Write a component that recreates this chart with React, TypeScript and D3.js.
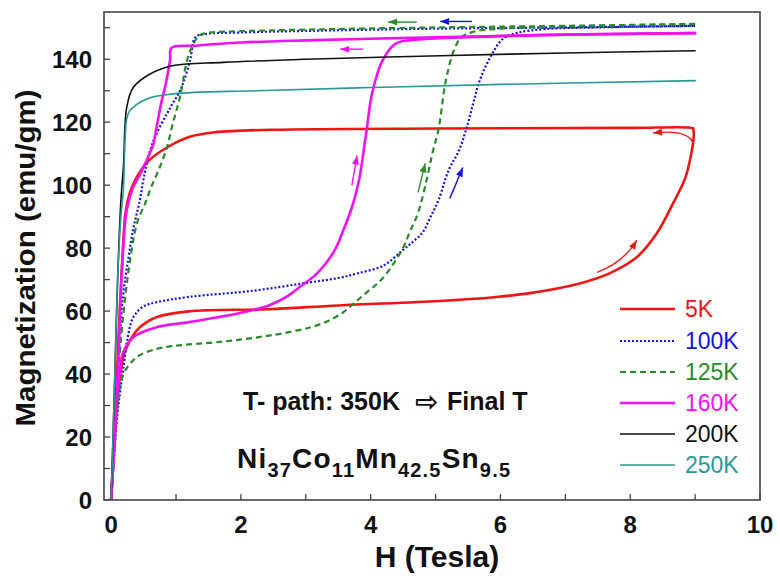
import React from "react";
import * as d3 from "d3";

type Pt = [number, number];

// ---- data (H in Tesla, M in emu/gm) ----
const xMajor = [0, 2, 4, 6, 8, 10];
const xMinor = [0, 1, 2, 3, 4, 5, 6, 7, 8, 9, 10];
const yMajor = [0, 20, 40, 60, 80, 100, 120, 140];
const yMinor = [0, 10, 20, 30, 40, 50, 60, 70, 80, 90, 100, 110, 120, 130, 140, 150];

const m5kUp: Pt[] = [[0,0],[0.03,12],[0.06,22],[0.1,32],[0.14,40],[0.21,47],[0.32,51.7],[0.45,55],[0.69,58],[1.2,59.9],[2.43,60.6],[3.5,61.8],[5.06,63.2],[5.9,64.4],[6.45,65.7],[7.22,68.8],[7.68,72],[8.1,77.1],[8.41,84.7],[8.66,94.2],[8.85,102.4],[8.95,111],[8.98,116],[8.97,118]];
const m5kDown: Pt[] = [[8.97,118],[8.9,118.3],[8,118.2],[5,118],[2.5,117.6],[1.6,116.8],[1.2,115.3],[0.88,112.2],[0.58,107.8],[0.38,102],[0.28,97],[0.22,91],[0.17,75],[0.12,55],[0.09,40],[0.05,22],[0,0]];

const m100kUp: Pt[] = [[0,0],[0.05,15],[0.1,28],[0.15,36],[0.19,42],[0.25,51],[0.34,58],[0.5,61.5],[0.7,62.8],[1.2,64.5],[2.2,66.5],[2.95,68.8],[3.5,70.5],[3.8,72],[4.2,74.5],[4.49,79.3],[4.65,82],[4.8,85],[4.92,89.8],[5.05,95.5],[5.2,104.7],[5.36,111],[5.48,118.3],[5.58,126],[5.68,133.2],[5.84,140.5],[6.04,146.5],[6.26,148.4],[6.7,149.6],[7.5,150.1],[9,150.6]];
const m100kDown: Pt[] = [[9,150.6],[7,150.1],[5,149.7],[3,149],[2,148.5],[1.45,148],[1.3,147],[1.22,140],[1.12,133],[1.05,129.5],[0.95,126],[0.86,122.7],[0.7,116.4],[0.6,111],[0.5,102],[0.44,95],[0.34,86],[0.26,76],[0.18,64.4],[0.13,50],[0.1,40],[0.06,25],[0,0]];

const m125kUp: Pt[] = [[0,0],[0.05,15],[0.1,30],[0.18,39.5],[0.3,43.5],[0.44,46],[0.7,48],[0.95,48.9],[1.72,50.3],[2.3,51.8],[2.74,53.3],[3.1,55],[3.4,57.4],[3.6,60],[3.77,63],[3.97,66.5],[4.17,70.1],[4.48,79.3],[4.6,85],[4.73,91.2],[4.86,101.5],[4.95,110],[5.05,118.3],[5.15,132.3],[5.28,142.7],[5.4,147],[5.6,148.8],[6,149.7],[7,150.4],[9,151.2]];
const m125kDown: Pt[] = [[9,151.2],[7,150.6],[5,150.1],[3,149.4],[2,148.9],[1.5,148.4],[1.36,147.5],[1.2,141.7],[1.06,127.9],[0.95,119.5],[0.86,112],[0.75,105.7],[0.62,99.5],[0.52,94],[0.4,88],[0.25,70],[0.14,48.5],[0.1,38],[0.05,20],[0,0]];

const m160kUp: Pt[] = [[0,0],[0.05,18],[0.1,35],[0.14,42],[0.18,46.6],[0.34,51.7],[0.7,54.9],[1.2,56.5],[1.97,59.3],[2.43,61.8],[2.7,64.5],[2.94,68.2],[3.15,71.5],[3.31,75.2],[3.45,79.5],[3.56,84.7],[3.71,92.9],[3.82,101.5],[3.93,116.4],[4.02,129],[4.18,139.5],[4.39,145],[4.7,146.2],[5.5,147],[7,147.8],[9,148.3]];
const m160kDown: Pt[] = [[9,148.3],[7,147.8],[5,147],[3,146],[2,145.3],[1.3,144.3],[0.93,143.6],[0.91,140],[0.89,137.4],[0.83,131],[0.78,126.9],[0.7,118.4],[0.65,113],[0.57,108.9],[0.45,103.6],[0.34,99.4],[0.24,92],[0.17,75],[0.12,50],[0.06,22],[0,0]];

const m200k: Pt[] = [[0,0],[0.05,35],[0.1,70],[0.15,95],[0.19,106],[0.24,124.7],[0.34,131],[0.6,135.3],[0.96,138],[1.73,139],[3,140],[5.07,141.1],[7,142],[9,142.7]];
const m250k: Pt[] = [[0,0],[0.05,35],[0.1,70],[0.15,90],[0.19,99],[0.21,112],[0.24,121],[0.29,123.7],[0.55,127.4],[0.96,129],[2.24,130],[4,131],[6,132],[9,133.2]];

const seriesNames = ["5K", "100K", "125K", "160K", "200K", "250K"];
const seriesColors = ["#f01515", "#1212e6", "#2a8a2a", "#f012f0", "#111111", "#2a9696"];
const seriesWidths = [2.6, 2.2, 2.2, 2.6, 1.6, 1.6];
const seriesDash = ["", "2,2", "6,4", "", "", ""];
const seriesBranches: Pt[][][] = [
  [m5kUp, m5kDown],
  [m100kUp, m100kDown],
  [m125kUp, m125kDown],
  [m160kUp, m160kDown],
  [m200k],
  [m250k],
];

// direction arrows: [series index, from, control (optional), to]
const arrowSeries = [0, 0, 1, 1, 2, 2, 3, 3];
const arrowFrom: Pt[] = [[7.49,72.3],[8.97,113],[5.22,95.8],[5.56,152],[4.71,151.8],[4.73,97.7],[3.88,143.2],[3.71,99.9]];
const arrowCtrl: (Pt | null)[] = [[7.9,75.5],[8.92,117.8],null,null,null,null,null,null];
const arrowTo: Pt[] = [[8.1,82.5],[8.35,116.6],[5.42,105.6],[5.07,152],[4.27,151.8],[4.84,106.9],[3.53,143.2],[3.79,109.4]];

const W = 780, H = 576;
const L = 104, R = 760, T = 12, B = 500;

export default function App() {
  const x = d3.scaleLinear().domain([-0.11, 10]).range([L, R]);
  const y = d3.scaleLinear().domain([0, 155]).range([B, T]);
  const line = d3.line<Pt>().x(d => x(d[0])).y(d => y(d[1])).curve(d3.curveCatmullRom.alpha(0.5));
  const font = "'Liberation Sans', Arial, Helvetica, sans-serif";

  const arrows = arrowSeries.map((s, i) => {
    const f = arrowFrom[i], t = arrowTo[i], c = arrowCtrl[i];
    const fx = x(f[0]), fy = y(f[1]), tx = x(t[0]), ty = y(t[1]);
    let d: string;
    let ax: number, ay: number;
    if (c) {
      const cx = x(c[0]), cy = y(c[1]);
      d = `M${fx},${fy}Q${cx},${cy} ${tx},${ty}`;
      ax = tx - cx; ay = ty - cy;
    } else {
      d = `M${fx},${fy}L${tx},${ty}`;
      ax = tx - fx; ay = ty - fy;
    }
    const len = Math.hypot(ax, ay);
    const ux = ax / len, uy = ay / len;
    const hl = 9, hw = 3.5;
    const bx = tx - ux * hl, by = ty - uy * hl;
    const head = `${tx},${ty} ${bx - uy * hw},${by + ux * hw} ${bx + uy * hw},${by - ux * hw}`;
    return (
      <g key={"a" + i}>
        <path d={d} fill="none" stroke={seriesColors[s]} strokeWidth={1.4} />
        <polygon points={head} fill={seriesColors[s]} />
      </g>
    );
  });

  const legendY = [309, 341, 372, 403, 434, 465];

  return (
    <svg width={W} height={H} style={{ position: "absolute", left: 0, top: 0, background: "#fff" }} fontFamily={font}>
      <rect x={0} y={0} width={W} height={H} fill="#fff" />
      <defs>
        <clipPath id="plot">
          <rect x={L} y={T} width={R - L} height={B - T} />
        </clipPath>
      </defs>

      {/* ticks */}
      {xMinor.map(v => (
        <line key={"xt" + v} x1={x(v)} x2={x(v)} y1={B} y2={B - 6} stroke="#444" strokeWidth={1.3} />
      ))}
      {yMinor.map(v => (
        <line key={"yt" + v} x1={L} x2={L + 6} y1={y(v)} y2={y(v)} stroke="#444" strokeWidth={1.3} />
      ))}

      {/* curves */}
      <g clipPath="url(#plot)">
        {seriesBranches.map((branches, si) =>
          branches.map((b, bi) => (
            <path key={si + "-" + bi} d={line(b) || ""} fill="none" stroke={seriesColors[si]}
              strokeWidth={seriesWidths[si]} strokeDasharray={seriesDash[si] || undefined}
              strokeLinejoin="round" strokeLinecap={seriesDash[si] ? "butt" : "round"} />
          ))
        )}
        {arrows}
      </g>

      {/* frame */}
      <rect x={L} y={T} width={R - L} height={B - T} fill="none" stroke="#444" strokeWidth={1.6} />

      {/* tick labels */}
      {xMajor.map(v => (
        <text key={"xl" + v} x={x(v)} y={533} textAnchor="middle" fontSize={24} fontWeight="bold" fill="#111">{v}</text>
      ))}
      {yMajor.map(v => (
        <text key={"yl" + v} x={92} y={y(v) + 8.5} textAnchor="end" fontSize={24} fontWeight="bold" fill="#111">{v}</text>
      ))}

      {/* axis titles */}
      <text x={437} y={567} textAnchor="middle" fontSize={30} fontWeight="bold" fill="#111">H (Tesla)</text>
      <text transform={`translate(35,258) rotate(-90)`} textAnchor="middle" fontSize={28} fontWeight="bold" fill="#111"
        textLength={337} lengthAdjust="spacingAndGlyphs">Magnetization (emu/gm)</text>

      {/* legend */}
      {seriesNames.map((n, i) => (
        <g key={"lg" + i}>
          <line x1={620} x2={675} y1={legendY[i]} y2={legendY[i]} stroke={seriesColors[i]}
            strokeWidth={seriesWidths[i]} strokeDasharray={seriesDash[i] || undefined} />
          <text x={685} y={legendY[i] + 8} fontSize={23} fill={seriesColors[i]}>{n}</text>
        </g>
      ))}

      {/* annotations */}
      <text x={243} y={410} fontSize={25} fontWeight="bold" fill="#111">T- path: 350K</text>
      <text x={415} y={411} fontSize={28} fontWeight="bold" fill="#111" fontFamily="'DejaVu Sans', sans-serif">⇨</text>
      <text x={447} y={410} fontSize={25} fontWeight="bold" fill="#111">Final T</text>

      <text x={237} y={468} fontSize={28} fontWeight="bold" fill="#111" textLength={273} lengthAdjust="spacing">
        Ni<tspan fontSize={20} dy={9}>37</tspan>
        <tspan dy={-9}>Co</tspan><tspan fontSize={20} dy={9}>11</tspan>
        <tspan dy={-9}>Mn</tspan><tspan fontSize={20} dy={9}>42.5</tspan>
        <tspan dy={-9}>Sn</tspan><tspan fontSize={20} dy={9}>9.5</tspan>
      </text>
    </svg>
  );
}
